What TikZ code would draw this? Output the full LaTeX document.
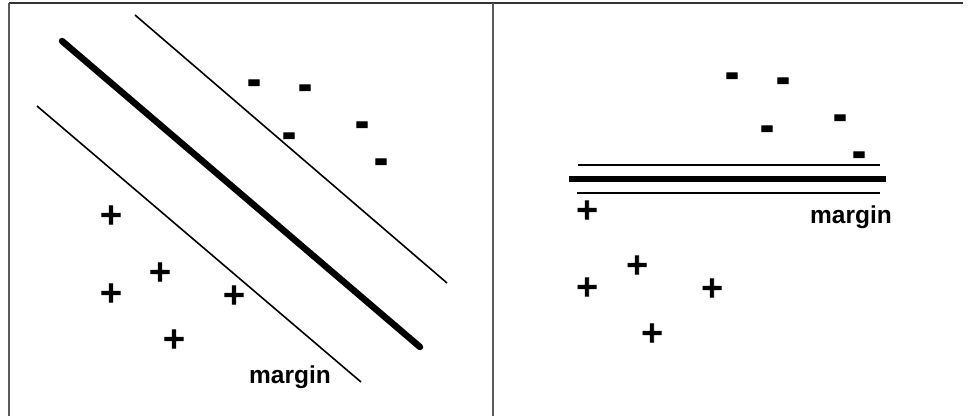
\documentclass[tikz,border=0pt]{standalone}
\usepackage{fontspec}
\setmainfont{Liberation Sans}
\newfontfamily\dvb{DejaVu Sans}[FakeBold=3]
\begin{document}
\begin{tikzpicture}[x=1pt,y=-1pt,
  frame/.style={line width=1.4pt,draw=black!80},
  divider/.style={line width=2pt,draw=black!65},
  thinline/.style={line width=1.6pt},
  thickline/.style={line width=6.5pt,line cap=round},
  thickflat/.style={line width=5.8pt},
  plusmark/.style={font=\dvb\bfseries\fontsize{29}{29}\selectfont,inner sep=0pt},
  minusmark/.style={font=\dvb\bfseries\fontsize{29}{29}\selectfont,inner sep=0pt,yshift=-6pt,xscale=1.15,yscale=1.35},
  lbl/.style={font=\bfseries\fontsize{24.5}{24.5}\selectfont,inner sep=0pt,anchor=base west}]
\useasboundingbox (0,0) rectangle (971,416);
\fill[white] (0,0) rectangle (971,416);
% frame
\coordinate (tl) at (9,3);
\coordinate (tr) at (963,3);
\coordinate (bl) at (9,416);
\coordinate (mt) at (493,3);
\coordinate (mb) at (493,416);
\draw[frame] (tl) -- (tr);
\draw[divider] (tl) -- (bl);
\draw[divider] (mt) -- (mb);
% left panel lines
\coordinate (a1) at (135,15);  \coordinate (a2) at (447,283);
\coordinate (b1) at (62,41);   \coordinate (b2) at (420,347);
\coordinate (c1) at (37,106);  \coordinate (c2) at (361,382);
\draw[thinline] (a1) -- (a2);
\draw[thickline] (b1) -- (b2);
\draw[thinline] (c1) -- (c2);
% left negatives
\node[minusmark] (ln1) at (254,81) {-};
\node[minusmark] (ln2) at (305,86) {-};
\node[minusmark] (ln3) at (289,134) {-};
\node[minusmark] (ln4) at (362,123) {-};
\node[minusmark] (ln5) at (381,160) {-};
% left positives
\node[plusmark] (lp1) at (111,215) {+};
\node[plusmark] (lp2) at (160,272) {+};
\node[plusmark] (lp3) at (111,293) {+};
\node[plusmark] (lp4) at (234,295) {+};
\node[plusmark] (lp5) at (174,339) {+};
\node[lbl] (lm) at (249,383) {margin};
% right panel lines
\coordinate (d1) at (578,165); \coordinate (d2) at (880,165);
\coordinate (e1) at (569,179); \coordinate (e2) at (886,179);
\coordinate (f1) at (577,193); \coordinate (f2) at (880,193);
\draw[thinline] (d1) -- (d2);
\draw[thickflat] (e1) -- (e2);
\draw[thinline] (f1) -- (f2);
% right negatives
\node[minusmark] (rn1) at (732,74) {-};
\node[minusmark] (rn2) at (783,79) {-};
\node[minusmark] (rn3) at (767,127) {-};
\node[minusmark] (rn4) at (840,116) {-};
\node[minusmark] (rn5) at (859,153) {-};
% right positives
\node[plusmark] (rp1) at (587,210) {+};
\node[plusmark] (rp2) at (587,287) {+};
\node[plusmark] (rp3) at (637,265) {+};
\node[plusmark] (rp4) at (712,288) {+};
\node[plusmark] (rp5) at (652,333) {+};
\node[lbl] (rm) at (810,223) {margin};
\end{tikzpicture}
\end{document}
